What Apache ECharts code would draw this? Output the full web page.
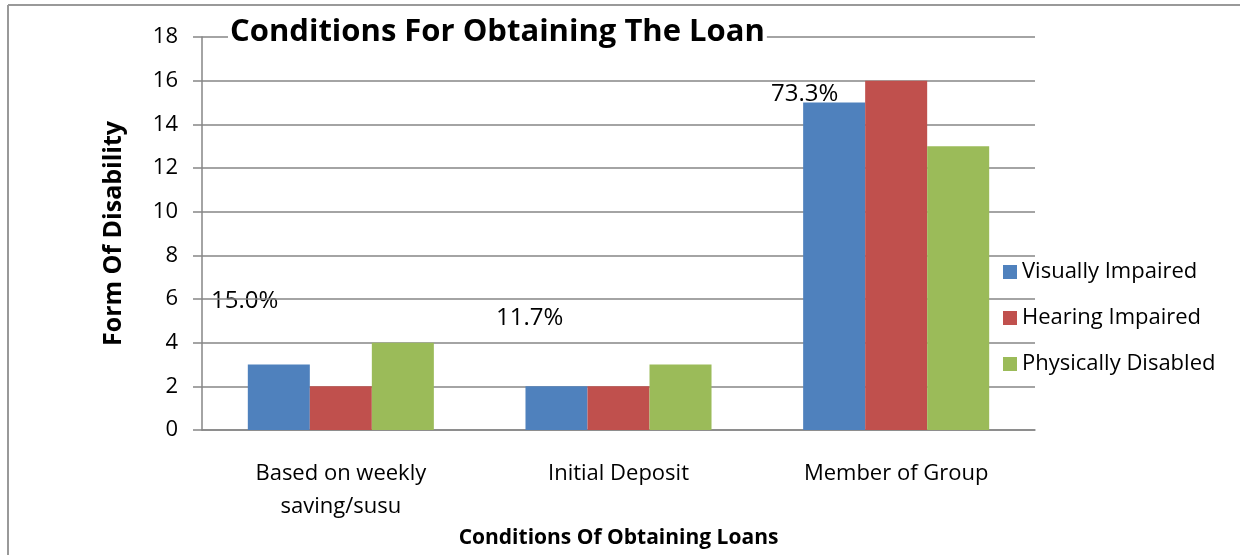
<!DOCTYPE html>
<html>
<head>
<meta charset="utf-8">
<script src="https://cdn.jsdelivr.net/npm/echarts@6/dist/echarts.min.js"></script>
<style>
  html, body { margin: 0; padding: 0; background: #fff; }
  #chart { width: 1247px; height: 555px; }
</style>
</head>
<body>
<div id="chart"></div>
<script>
// Chart data
const categories = ['Based on weekly\nsaving/susu', 'Initial Deposit', 'Member of Group']
const visuallyImpaired = [3, 2, 15]
const hearingImpaired = [2, 2, 16]
const physicallyDisabled = [4, 3, 13]
const shareLabels = ['15.0%', '11.7%', '73.3%']

const font = '"Open Sans", "Noto Sans", sans-serif'
const gridColor = '#868686'

const chart = echarts.init(document.getElementById('chart'))

const barSeries = (name, data, color) => ({
  name,
  type: 'bar',
  data,
  barGap: '0%',
  barCategoryGap: '33%',
  itemStyle: { color },
})

const option = {
  backgroundColor: '#fff',
  animation: false,
  textStyle: { fontFamily: font },
  title: {
    text: 'Conditions For Obtaining The Loan',
    left: 228,
    top: 17,
    padding: [0, 2],
    backgroundColor: '#fff',
    textStyle: { fontSize: 31, fontWeight: 'bold', color: '#000', fontFamily: font },
  },
  legend: {
    orient: 'vertical',
    left: 998,
    top: 256,
    itemWidth: 14,
    itemHeight: 14,
    itemGap: 24,
    icon: 'rect',
    textStyle: { fontSize: 22, color: '#000', fontFamily: font },
    data: ['Visually Impaired', 'Hearing Impaired', 'Physically Disabled'],
  },
  grid: { left: 202, right: 212, top: 37, bottom: 125 },
  xAxis: {
    type: 'category',
    data: categories,
    name: 'Conditions Of Obtaining Loans',
    nameLocation: 'middle',
    nameGap: 96,
    nameTextStyle: { fontSize: 21, fontWeight: 'bold', color: '#000' },
    axisLine: { lineStyle: { color: gridColor, width: 1.5 } },
    axisTick: { show: false },
    axisLabel: { fontSize: 22, color: '#000', margin: 27, lineHeight: 33 },
  },
  yAxis: {
    type: 'value',
    min: 0,
    max: 18,
    interval: 2,
    name: 'Form Of Disability',
    nameLocation: 'middle',
    nameGap: 76,
    nameTextStyle: { fontSize: 25, fontWeight: 'bold', color: '#000' },
    axisLine: { show: true, lineStyle: { color: gridColor, width: 1.5 } },
    axisTick: { show: true, length: 9, lineStyle: { color: gridColor, width: 1.5 } },
    axisLabel: { fontSize: 22, color: '#000', margin: 24 },
    splitLine: { lineStyle: { color: gridColor, width: 1.5 } },
  },
  series: [
    barSeries('Visually Impaired', visuallyImpaired, '#4F81BD'),
    barSeries('Hearing Impaired', hearingImpaired, '#C0504D'),
    barSeries('Physically Disabled', physicallyDisabled, '#9BBB59'),
  ],
  graphic: [
    // outer frame
    { type: 'line', shape: { x1: 8, y1: 5, x2: 1240, y2: 5 }, style: { stroke: '#999', lineWidth: 2 } },
    { type: 'line', shape: { x1: 8, y1: 5, x2: 8, y2: 555 }, style: { stroke: '#999', lineWidth: 2 } },
    // share annotations
    { type: 'text', left: 211, top: 289, style: { text: shareLabels[0], fontSize: 24, fill: '#000', fontFamily: font } },
    { type: 'text', left: 496, top: 306, style: { text: shareLabels[1], fontSize: 24, fill: '#000', fontFamily: font } },
    { type: 'text', left: 771, top: 82, style: { text: shareLabels[2], fontSize: 24, fill: '#000', fontFamily: font } },
  ],
}

chart.setOption(option)
</script>
</body>
</html>
